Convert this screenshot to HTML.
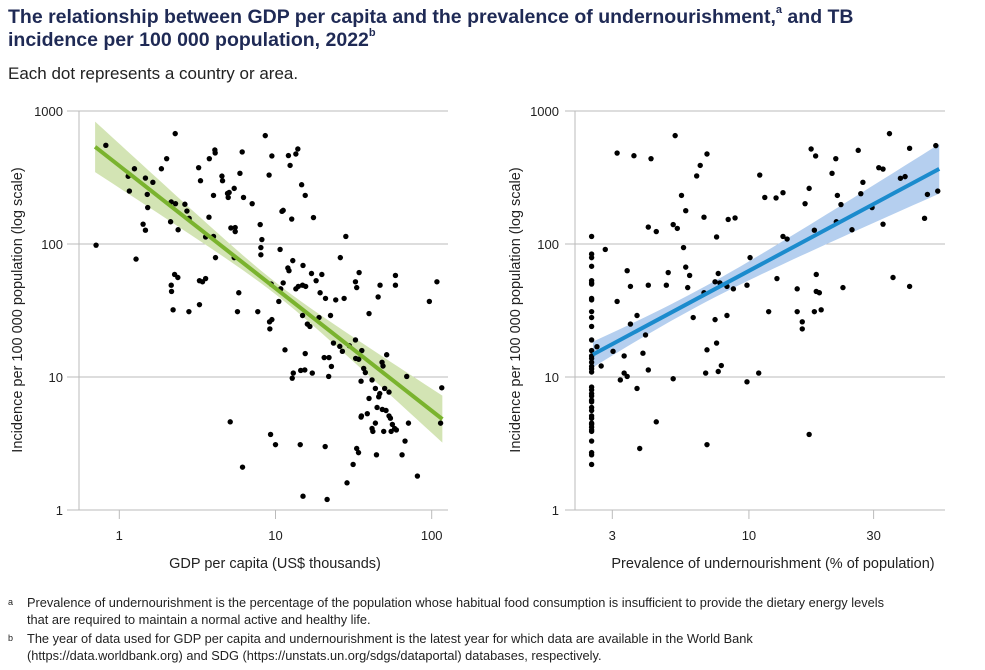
<!DOCTYPE html>
<html><head><meta charset="utf-8">
<style>
body{margin:0;background:#fff;font-family:"Liberation Sans",sans-serif;}
#wrap{position:relative;width:985px;height:670px;overflow:hidden;}
.t{position:absolute;left:8px;color:#1f2a55;font-weight:bold;font-size:19.5px;line-height:23px;}
.t sup{font-size:11px;vertical-align:top;line-height:11px;position:relative;top:-1px;}
.sub{position:absolute;left:8px;top:64px;font-size:17px;color:#222;}
.fn{position:absolute;font-size:12.8px;color:#222;line-height:17px;}
svg text{font-family:"Liberation Sans",sans-serif;fill:#222;}
</style></head><body>
<div id="wrap">
<div class="t" style="top:6px">The relationship between GDP per capita and the prevalence of undernourishment,<sup>a</sup> and TB<br>incidence per 100 000 population, 2022<sup>b</sup></div>
<div class="sub">Each dot represents a country or area.</div>
<svg id="chart" width="985" height="670" style="position:absolute;left:0;top:0"></svg>
<div class="fn" style="left:8px;top:594px;width:970px"><span style="position:absolute;left:0;font-size:9px">a</span><div style="margin-left:19px;width:880px">Prevalence of undernourishment is the percentage of the population whose habitual food consumption is insufficient to provide the dietary energy levels that are required to maintain a normal active and healthy life.</div></div>
<div class="fn" style="left:8px;top:630px;width:970px"><span style="position:absolute;left:0;font-size:9px">b</span><div style="margin-left:19px;width:800px">The year of data used for GDP per capita and undernourishment is the latest year for which data are available in the World Bank (https://data.worldbank.org) and SDG (https://unstats.un.org/sdgs/dataportal) databases, respectively.</div></div>
</div>
<script>
const gdpX=[0.71,0.82,2.28,8.6,1.14,1.25,1.16,1.47,1.51,1.64,1.52,1.86,2.01,1.42,1.47,1.28,2.15,2.29,2.13,2.38,2.63,2.71,2.8,3.22,3.31,3.77,4.09,4.11,4.54,4.58,4.01,4.93,4.98,5.05,5.44,5.92,6.12,6.24,7.09,3.75,3.57,4.01,4.13,5.18,5.52,5.52,5.44,2.26,2.37,2.15,2.16,2.21,2.79,3.26,3.41,3.57,3.26,5.82,5.71,7.7,7.98,8.18,8.06,8.06,9.1,9.48,11,11.2,12.7,12.1,13.5,13.9,12.4,14.7,15.5,17.5,10.7,9.38,11.2,10.8,10.5,12,12.2,12.9,15,13.5,14,14.9,15.6,17,18.2,19.8,19.3,20.9,24.3,27.5,22.5,26,28.2,14.9,16,16.6,19,9.16,9.48,9.2,11.5,15.5,20.5,22,22.8,21.9,17.2,15.4,14.5,13,12.8,23.5,25.8,26.8,29.7,32.5,35.7,32.6,34.1,34.3,32.5,33.1,46.7,45.4,58.6,58.6,39.7,108,96.6,51.5,48.1,48.8,36.7,37.6,69.2,35.3,41.5,43.6,50,53.3,46.5,45.8,39.7,44.7,48.3,51,38.7,35.5,35.3,53.3,54.4,43.6,56,71,41.5,42,49.3,55,59.4,57.9,114,116,67.5,64.6,44.3,33.1,34,31.4,28.7,81,20.8,14.4,10,9.3,5.13,6.15,15,21.4];
const gdpTB=[98,552,676,653,323,368,250,313,236,291,188,368,438,141,127,77,207,201,147,128,199,177,156,375,299,438,509,484,324,299,232,240,224,244,262,340,492,224,201,159,113,114,79,132,133,124,79,59,56,49,44,32,31,53,52,55,35,43,31,31,140,108,94,83,330,459,176,179,154,462,475,518,390,279,232,158,91,50,51,46,37,66,63,75,69,46,48,49,48,60,53,59,43,39,38,39,29,79,114,29,25,24,28,26,27,23,16,15,14,14,12,10.1,10.7,11.3,11.2,10.7,9.8,18,17,15.6,17.2,19,15.8,13.8,13.6,61,52,47,49,40,58,49,30,52,37,14.7,12.9,12.1,11.6,10.8,10.1,9.3,9.5,8.2,8.2,7.7,7.5,7.1,6.9,5.9,5.7,5.6,5.3,5.1,5,5.1,4.9,4.5,4.4,4.5,4.1,3.9,3.9,3.9,4,4.1,4.5,8.3,3.3,2.6,2.6,2.9,2.7,2.2,1.6,1.8,3,3.1,3.1,3.7,4.6,2.1,1.27,1.2];
const punX=[2.5,2.5,2.5,2.5,2.5,2.5,2.5,2.5,2.5,2.5,2.5,2.5,2.5,2.5,2.5,2.5,2.5,2.5,2.5,2.5,2.5,2.5,2.5,2.5,2.5,2.5,2.5,2.5,2.5,2.5,2.5,2.5,2.5,2.5,2.5,2.5,2.5,2.5,2.5,
2.62,2.72,2.82,3.02,3.13,3.13,3.22,3.33,3.33,3.42,3.42,3.52,3.52,3.63,3.73,3.73,3.82,3.93,4.02,4.12,4.12,4.12,4.22,4.42,4.42,4.83,4.91,5.13,5.13,5.22,5.32,5.52,5.62,5.73,5.73,5.83,5.93,6.12,6.31,6.51,6.73,6.73,6.83,6.91,6.91,6.91,7.42,7.42,7.52,7.52,7.63,7.63,7.74,7.84,8.24,8.24,8.33,8.72,8.85,9.83,9.83,10.1,10.9,11,11.5,11.9,12.7,12.8,13.5,13.5,14,15.3,15.3,16,16,16.4,17,17,17.3,17.8,17.8,18,18.1,18.1,18.6,18.9,20.8,21.5,21.6,21.8,22.5,22.9,24.8,26.2,26.8,27.3,29.6,31.4,32.6,32.6,34.5,35.6,38,39.6,41.2,41.2,47,48.2,51.9,52.8];
const punTB=[114,84,79,68,53,51,50,39,38,31,28,24,19,15.8,14.4,13.8,12.9,12,11.5,10.9,8.4,8,7.5,7.2,6.7,6.5,5.9,5.6,5.1,4.9,4.5,4.4,4.2,4,3.9,3.3,2.7,2.6,2.2,
16.9,12.1,91,15.6,483,37,9.5,14.4,10.7,10.1,63,48,25,461,29,8.2,2.9,15.1,20.7,134,49,11.3,438,124,4.6,49,61,9.7,140,653,131,232,94,178,67,47,58,28,325,390,159,43,10.7,16,475,3.1,52,27,113,18,60,11,51,12.2,48,29,153,46,157,49,9.2,79,10.7,330,224,31,222,55,243,114,109,46,31,26,23,201,262,3.7,518,127,31,459,59,44,43,32,340,438,147,232,198,47,128,506,239,291,188,375,366,141,676,56,312,321,48,524,156,236,549,250];
// fitted trend (log10 y = a + b*log10 x) and confidence band: [halfwidth at centre, curvature, centre log10 x]
const gdpFit=[2.588,-0.921], gdpXRange=[0.7,117], gdpBand=[0.045,0.0255,1.0];
const punFit=[0.745,1.053], punXRange=[2.53,53.5], punBand=[0.06,0.036,0.8];
const yTicks=[1,10,100,1000];
const gdpTicks=[1,10,100], punTicks=[3,10,30];

const svg=document.getElementById('chart');
const NS='http://www.w3.org/2000/svg';
function mk(tag,attrs,parent){const e=document.createElementNS(NS,tag);for(const k in attrs)e.setAttribute(k,attrs[k]);(parent||svg).appendChild(e);return e;}
const yS=v=>510-133*Math.log10(v);

function panel(cfg){
  const g=mk('g',{});
  
  
  const xS=v=>cfg.x0+cfg.dec*(Math.log10(v)-cfg.l0);
  yTicks.forEach(t=>{
    const ln=mk('line',{x1:cfg.gl0,x2:cfg.gl1,y1:yS(t),y2:yS(t),stroke:'#bbb','stroke-width':1},g);
    
    
    const tx=mk('text',{x:cfg.ax-16,y:yS(t)+5,'text-anchor':'end','font-size':13},g);
    tx.textContent=t;
    
    
  });
  const ya=mk('line',{x1:cfg.ax,x2:cfg.ax,y1:111,y2:510,stroke:'#bbb','stroke-width':1},g);
  
  
  cfg.xt.forEach(t=>{
    const tk=mk('line',{x1:xS(t),x2:xS(t),y1:510,y2:519,stroke:'#bbb'},g);
    
    
    const tx=mk('text',{x:xS(t),y:540,'text-anchor':'middle','font-size':13},g);
    tx.textContent=t;
    
    
  });
  const [a,b]=cfg.fit,[h0,c,m]=cfg.band;
  const l1=Math.log10(cfg.xr[0]),l2=Math.log10(cfg.xr[1]);
  let up=[],lo=[];
  for(let i=0;i<=40;i++){const lx=l1+(l2-l1)*i/40;const yc=a+b*lx;const hw=Math.sqrt(h0*h0+c*(lx-m)*(lx-m));
    const px=cfg.x0+cfg.dec*(lx-cfg.l0);up.push(px+','+(510-133*(yc+hw)));lo.unshift(px+','+(510-133*(yc-hw)));}
  const band=mk('polygon',{points:up.concat(lo).join(' '),fill:cfg.bandCol},g);
  
  
  cfg.xs.forEach((v,i)=>{
    const d=mk('circle',{cx:xS(v),cy:yS(cfg.ys[i]),r:2.7,fill:'#000'},g);
    
    
  });
  const tl=mk('line',{x1:cfg.x0+cfg.dec*(l1-cfg.l0),y1:510-133*(a+b*l1),x2:cfg.x0+cfg.dec*(l2-cfg.l0),y2:510-133*(a+b*l2),stroke:cfg.lineCol,'stroke-width':4},g);
  
  
  const xt=mk('text',{x:cfg.xtx,y:568,'text-anchor':'middle','font-size':14.5},g);
  xt.textContent=cfg.xtitle;
  
  
  const yt=mk('text',{x:0,y:0,'text-anchor':'middle','font-size':14.5,transform:`translate(${cfg.ytx},310) rotate(-90)`},g);
  yt.textContent='Incidence per 100 000 population (log scale)';
  
  
}
panel({name:'gdp-panel',x0:119.3,l0:0,dec:156.2,ax:79,gl0:67,gl1:448,xt:gdpTicks,xs:gdpX,ys:gdpTB,fit:gdpFit,xr:gdpXRange,band:gdpBand,bandCol:'#d3e4b4',lineCol:'#7ab32e',xtitle:'GDP per capita (US$ thousands)',xtx:275,ytx:22});
panel({name:'undernourishment-panel',x0:612.3,l0:Math.log10(3),dec:261.3,ax:575,gl0:565,gl1:945,xt:punTicks,xs:punX,ys:punTB,fit:punFit,xr:punXRange,band:punBand,bandCol:'#b5cfef',lineCol:'#1b8bcd',xtitle:'Prevalence of undernourishment (% of population)',xtx:773,ytx:520});
</script>
</body></html>
